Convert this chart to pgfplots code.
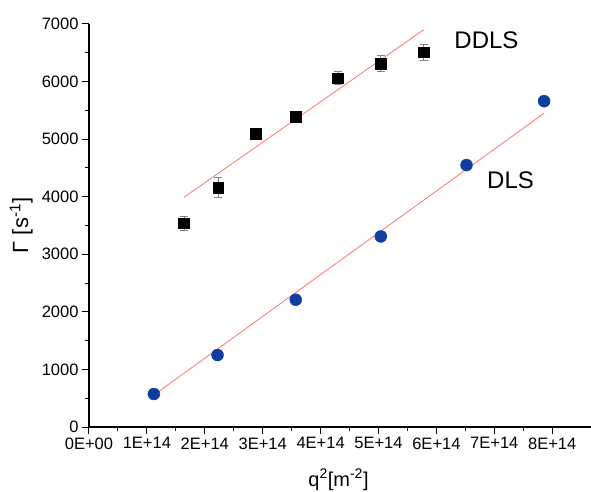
\documentclass[border=0pt]{standalone}
\usepackage{pgfplots}
\pgfplotsset{compat=1.18}
\usepackage{fontspec}
\setmainfont{Liberation Sans}
\definecolor{dlsblue}{HTML}{0F3E9E}
\definecolor{fitred}{HTML}{FF7F7F}
\begin{document}
\begin{tikzpicture}
\useasboundingbox (-89pt,-64pt) rectangle (502pt,427pt);
\begin{axis}[
  at={(0,0)}, anchor=south west,
  scale only axis, width=502pt, height=403pt,
  xmin=0, xmax=8.67e14, ymin=0, ymax=7000,
  axis x line*=bottom, axis y line*=left,
  axis line style={line width=1.1pt, -},
  tick align=outside, major tick length=7pt, minor tick length=4pt,
  tick style={black, line width=1pt},
  xtick={0,1e14,2e14,3e14,4e14,5e14,6e14,7e14,8e14},
  xticklabels={0E+00,1E+14,2E+14,3E+14,4E+14,5E+14,6E+14,7E+14,8E+14},
  minor x tick num=1,
  ytick={0,1000,2000,3000,4000,5000,6000,7000},
  minor y tick num=1,
  scaled x ticks=false, scaled y ticks=false,
  /pgf/number format/assume math mode=true,
  /pgf/number format/set thousands separator={},
  tick label style={font=\fontsize{16.5}{18}\selectfont},
  xlabel={q\textsuperscript{2}[m\textsuperscript{-2}]},
  ylabel={Γ [s\textsuperscript{-1}]},
  xlabel style={font=\fontsize{20}{22}\selectfont, anchor=base, at={(axis description cs:0.497,-0.147)}},
  ylabel style={font=\fontsize{22}{24}\selectfont, anchor=center, at={(axis description cs:-0.135,0.5)}},
  clip=false,
]
% linear fits
\addplot[fitred, line width=0.9pt] coordinates {(1.64e14,3990) (5.78e14,6900)};
\addplot[fitred, line width=0.9pt] coordinates {(1.12e14,556) (7.86e14,5450)};
% DDLS
\addplot[only marks, mark=square*, mark size=5.3pt, black,
  error bars/.cd, y dir=both, y explicit,
  error bar style={gray, line width=0.8pt},
  error mark options={gray, rotate=90, mark size=4pt, line width=0.8pt}]
  table[x=x, y=y, y error=e] {
x y e
1.64e14 3540 125
2.23e14 4160 175
2.88e14 5090 50
3.57e14 5390 100
4.30e14 6060 115
5.04e14 6310 140
5.78e14 6510 140
};
% DLS
\addplot[only marks, mark=*, mark size=6pt, dlsblue, mark options={draw=dlsblue, fill=dlsblue}]
  table[x=x, y=y] {
x y
1.12e14 573
2.22e14 1250
3.57e14 2210
5.04e14 3310
6.52e14 4550
7.86e14 5660
};
\node[font=\fontsize{24}{26}\selectfont] at (axis cs:6.865e14,6714) {DDLS};
\node[font=\fontsize{24}{26}\selectfont] at (axis cs:7.28e14,4290) {DLS};
\end{axis}
\end{tikzpicture}
\end{document}
